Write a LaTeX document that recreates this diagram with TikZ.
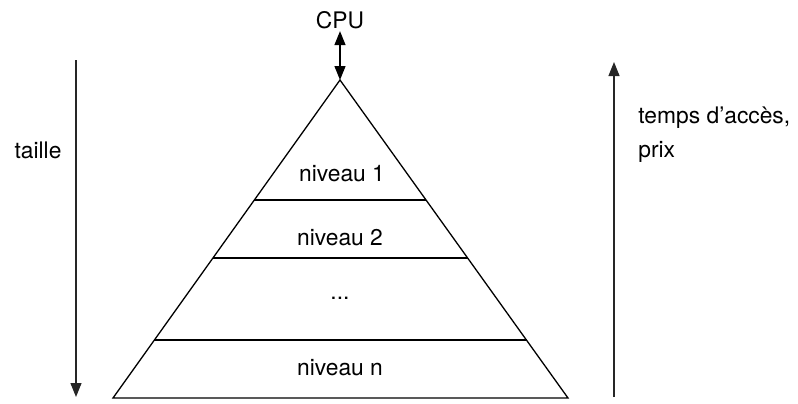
\documentclass[tikz,border=0pt]{standalone}
\usepackage{fontspec}
\setmainfont{TeX Gyre Heros}
\usetikzlibrary{arrows.meta, positioning, calc}

\begin{document}
\begin{tikzpicture}[
  x=0.5pt, y=-0.5pt,
  >={Triangle[length=7pt, width=5.5pt]},
  every node/.style={font=\fontsize{11.4}{17}\selectfont, inner sep=1pt},
  % Styles
  pyr/.style    = {line width=0.65pt, line join=miter},
  level/.style  = {line width=0.65pt},
  axis/.style   = {->, line width=0.6pt, black!85},
  cpulink/.style= {<->, line width=0.65pt}
]
\useasboundingbox (0,0) rectangle (798,403);

% =========================== PYRAMID ===========================
\coordinate (apex) at (340, 80);
\coordinate (bl)   at (113,398);
\coordinate (br)   at (568,398);
\draw[pyr] (apex) -- (bl) -- (br) -- cycle;

% level separators
\draw[level] ($(apex)!0.377!(bl)$) -- ($(apex)!0.377!(br)$);
\draw[level] ($(apex)!0.560!(bl)$) -- ($(apex)!0.560!(br)$);
\draw[level] ($(apex)!0.818!(bl)$) -- ($(apex)!0.818!(br)$);

\node (L1) at (342,174) {niveau 1};
\node (L2) at (340,238) {niveau 2};
\node (Ld) at (340,298) {...};
\node (Ln) at (340,368) {niveau n};

% =========================== CPU ===========================
\node (CPU) at (340,20) {CPU};
\draw[cpulink] (CPU) -- (apex);

% =========================== AXES ===========================
\coordinate (tTop) at (76, 60);
\coordinate (tBot) at (76,397);
\draw[axis] (tTop) -- (tBot);
\node (taille) at (38,150) {taille};

\coordinate (pBot) at (614,397);
\coordinate (pTop) at (614, 62);
\draw[axis] (pBot) -- (pTop);
\node[anchor=west, align=left] (prix) at (636,135) {temps d’accès,\\prix};

\end{tikzpicture}
\end{document}
